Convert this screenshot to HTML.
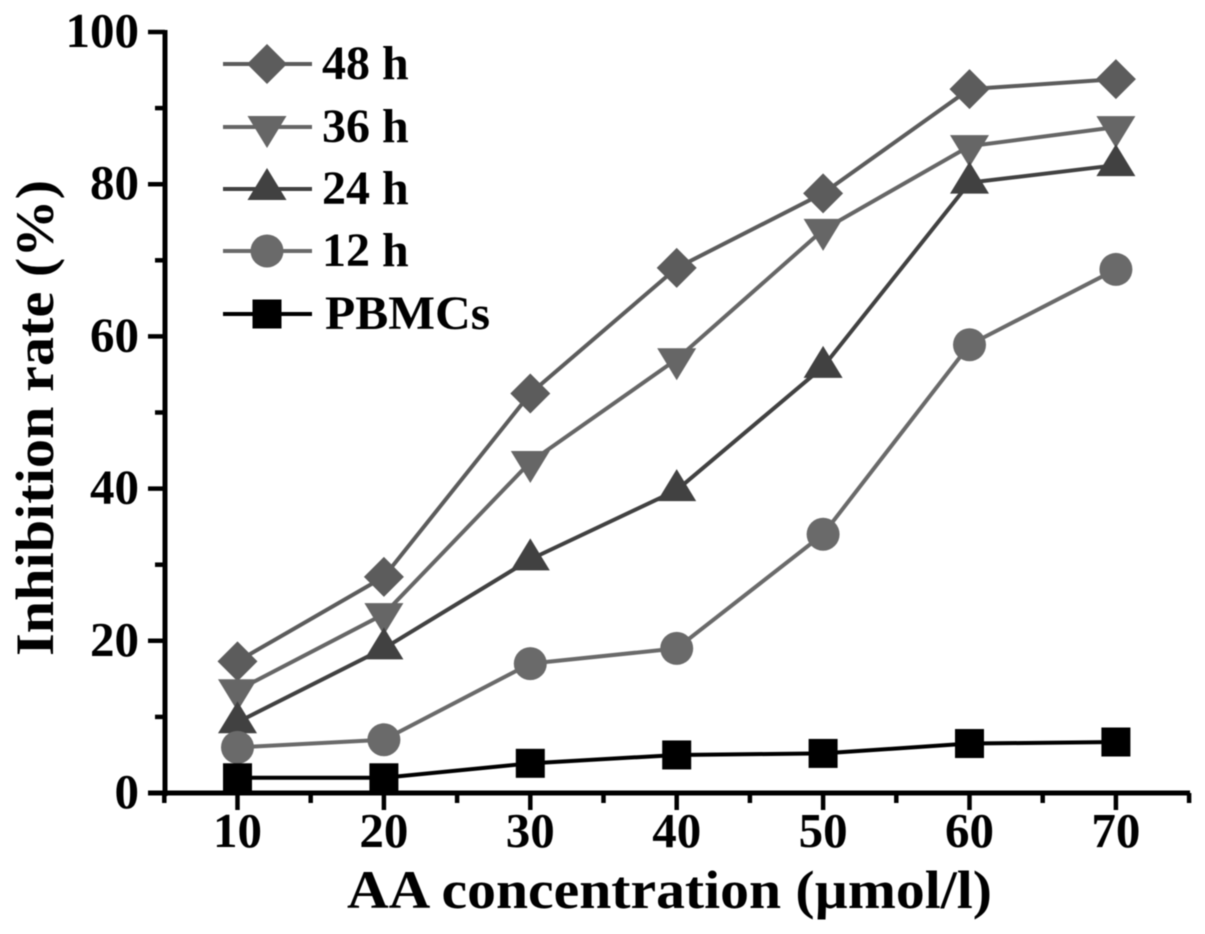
<!DOCTYPE html>
<html>
<head>
<meta charset="utf-8">
<style>
html,body{margin:0;padding:0;background:#fff;width:1205px;height:934px;overflow:hidden}
svg{display:block;font-family:"Liberation Serif",serif;font-weight:bold;fill:#000;filter:blur(0.6px)}
</style>
</head>
<body>
<svg id="chart" width="1205" height="934" viewBox="0 0 1205 934" xmlns="http://www.w3.org/2000/svg"></svg>
<script>
const categories = [10, 20, 30, 40, 50, 60, 70];
const values48h = [17.3, 28.4, 52.5, 69, 78.8, 92.5, 93.8];
const values36h = [13.5, 23.5, 43.5, 57, 74, 85, 87.5];
const values24h = [9.3, 19, 30.7, 39.8, 56, 80.2, 82.5];
const values12h = [6, 7, 17, 19, 34, 58.9, 68.8];
const valuesPBMC = [2, 2, 3.9, 5, 5.2, 6.5, 6.7];
const yTickLabels = [0, 20, 40, 60, 80, 100];
const yMinorTicks = [10, 30, 50, 70, 90];
const xTickLabels = [10, 20, 30, 40, 50, 60, 70];
const xMinorTicks = [5, 15, 25, 35, 45, 55, 65, 75];

const svg = document.getElementById('chart');
const NS = 'http://www.w3.org/2000/svg';
const xScale = v => 237.5 + (v - 10) * 14.64;
const yScale = v => 793 - v * 7.61;

function make(tag, props) {
  const el = document.createElementNS(NS, tag);
  for (const k in props) el.setAttribute(k, props[k]);
  svg.appendChild(el);
  return el;
}

function marker(kind, x, y, color) {
  let el;
  if (kind === 'diamond') {
    el = make('polygon', {points: `${x},${y-20} ${x+20},${y} ${x},${y+20} ${x-20},${y}`, fill: color});
  } else if (kind === 'down') {
    el = make('polygon', {points: `${x-19.5},${y-11} ${x+19.5},${y-11} ${x},${y+21}`, fill: color});
  } else if (kind === 'up') {
    el = make('polygon', {points: `${x-19.5},${y+11} ${x+19.5},${y+11} ${x},${y-21}`, fill: color});
  } else if (kind === 'circle') {
    el = make('circle', {cx: x, cy: y, r: 16.5, fill: color});
  } else {
    el = make('rect', {x: x - 14.5, y: y - 14.5, width: 29, height: 29, fill: color});
  }
  return el;
}

/* axes */
const yAxis = make('line', {x1: 165, y1: 30, x2: 165, y2: 796, stroke: '#000', 'stroke-width': 5});


const xAxis = make('line', {x1: 148, y1: 793, x2: 1190, y2: 793, stroke: '#000', 'stroke-width': 5});



yTickLabels.forEach(v => {
  const t = make('line', {x1: 148, y1: yScale(v), x2: 165, y2: yScale(v), stroke: '#000', 'stroke-width': 4.5});
  
  
  const l = make('text', {x: 139, y: yScale(v) + 15, 'font-size': 49, 'text-anchor': 'end'});
  l.textContent = v;
  
  
});
yMinorTicks.forEach(v => {
  const t = make('line', {x1: 155, y1: yScale(v), x2: 165, y2: yScale(v), stroke: '#000', 'stroke-width': 4.5});
  
  
});
xTickLabels.forEach(v => {
  const t = make('line', {x1: xScale(v), y1: 793, x2: xScale(v), y2: 810, stroke: '#000', 'stroke-width': 4.5});
  
  
  const l = make('text', {x: xScale(v), y: 847, 'font-size': 49, 'text-anchor': 'middle'});
  l.textContent = v;
  
  
});
xMinorTicks.forEach(v => {
  const t = make('line', {x1: xScale(v), y1: 793, x2: xScale(v), y2: 803, stroke: '#000', 'stroke-width': 4.5});
  
  
});

/* series, back to front */
const seriesOrder = [
  {label: '48 h', values: values48h, kind: 'diamond', color: '#5c5c5c', legendY: 64},
  {label: '36 h', values: values36h, kind: 'down', color: '#666666', legendY: 127},
  {label: '24 h', values: values24h, kind: 'up', color: '#414141', legendY: 189},
  {label: '12 h', values: values12h, kind: 'circle', color: '#6a6a6a', legendY: 251},
  {label: 'PBMCs', values: valuesPBMC, kind: 'square', color: '#000000', legendY: 314}
];

seriesOrder.forEach(s => {
  const pts = s.values.map((v, i) => xScale(categories[i]) + ',' + yScale(v)).join(' ');
  const line = make('polyline', {points: pts, fill: 'none', stroke: s.color, 'stroke-width': 4});
  
  
  s.values.forEach((v, i) => {
    const m = marker(s.kind, xScale(categories[i]), yScale(v), s.color);
    
    
  });

  const ll = make('line', {x1: 223, y1: s.legendY, x2: 312, y2: s.legendY, stroke: s.color, 'stroke-width': 4});
  
  
  const lm = marker(s.kind, 267, s.legendY, s.color);
  
  
  const props = {x: s.label === 'PBMCs' ? 325 : 322, y: s.legendY + 15, 'font-size': 48};
  if (s.label === 'PBMCs') {
    props.textLength = 165;
    props.lengthAdjust = 'spacingAndGlyphs';
  }
  const lt = make('text', props);
  lt.textContent = s.label;
  
  
});

/* titles */
const xTitle = make('text', {x: 347, y: 908, 'font-size': 54, textLength: 645, lengthAdjust: 'spacingAndGlyphs'});
xTitle.textContent = 'AA concentration (µmol/l)';


const yTitle = make('text', {x: 0, y: 0, 'font-size': 54, textLength: 476, lengthAdjust: 'spacingAndGlyphs', transform: 'translate(53,656) rotate(-90)'});
yTitle.textContent = 'Inhibition rate (%)';


</script>
</body>
</html>
